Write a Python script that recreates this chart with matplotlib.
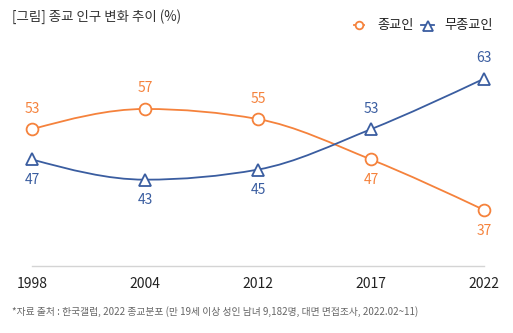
import matplotlib
matplotlib.use("Agg")
import matplotlib.pyplot as plt
from matplotlib.path import Path
from matplotlib.patches import PathPatch
from matplotlib.lines import Line2D
import numpy as np

plt.rcParams['font.family'] = ['Noto Sans CJK KR', 'DejaVu Sans']

years = ["1998", "2004", "2012", "2017", "2022"]
religious = [53, 57, 55, 47, 37]
non_religious = [47, 43, 45, 53, 63]
series_names = ["종교인", "무종교인"]

ORANGE = "#F5823C"
BLUE = "#3A5DA0"

# label placement: +1 above the marker, -1 below
religious_pos = [1, 1, 1, -1, -1]
non_religious_pos = [-1, -1, -1, 1, 1]


def monotone_path(xs, ys):
    """Monotone cubic (monotoneX) Bezier path through the given points."""
    xs = np.asarray(xs, float)
    ys = np.asarray(ys, float)
    n = len(xs)
    h = np.diff(xs)
    s = np.diff(ys) / h
    t = np.zeros(n)
    for i in range(1, n - 1):
        p = (s[i - 1] * h[i] + s[i] * h[i - 1]) / (h[i - 1] + h[i])
        t[i] = (np.sign(s[i - 1]) + np.sign(s[i])) * min(abs(s[i - 1]), abs(s[i]), 0.5 * abs(p))
    t[0] = (3 * s[0] - t[1]) / 2
    t[-1] = (3 * s[-1] - t[-2]) / 2
    verts = [(xs[0], ys[0])]
    codes = [Path.MOVETO]
    for i in range(n - 1):
        dx = (xs[i + 1] - xs[i]) / 3
        verts += [(xs[i] + dx, ys[i] + dx * t[i]),
                  (xs[i + 1] - dx, ys[i + 1] - dx * t[i + 1]),
                  (xs[i + 1], ys[i + 1])]
        codes += [Path.CURVE4] * 3
    return Path(verts, codes)


fig = plt.figure(figsize=(5.13, 3.33), dpi=100)
ax = fig.add_axes([32 / 513, 1 - 266 / 333, (484 - 32) / 513, (266 - 43) / 333])
x = np.arange(len(years))

for vals, color, marker, pos in [
    (religious, ORANGE, "o", religious_pos),
    (non_religious, BLUE, "^", non_religious_pos),
]:
    ax.add_patch(PathPatch(monotone_path(x, vals), facecolor="none",
                           edgecolor=color, lw=1.3, clip_on=False, zorder=2))
    ax.plot(x, vals, linestyle="none", marker=marker, markersize=8.5,
            markerfacecolor="white", markeredgecolor=color, markeredgewidth=1.3,
            clip_on=False, zorder=3)
    for xi, v, p in zip(x, vals, pos):
        ax.annotate(f"{v}", (xi, v), xytext=(0, 14.8 * p), textcoords="offset points",
                    ha="center", va="center", fontsize=10, color=color)

ax.set_xlim(0, len(years) - 1)
ax.set_ylim(25.9, 70.07)
ax.set_xticks(x)
ax.set_xticklabels(years, fontsize=10, color="#222222")
ax.set_yticks([])
ax.tick_params(axis="x", length=0, pad=8)
for side in ["top", "left", "right"]:
    ax.spines[side].set_visible(False)
ax.spines["bottom"].set_color("#d4d4d4")
ax.spines["bottom"].set_linewidth(1.0)

# title
fig.text(12 / 513, 1 - 17 / 333, "[그림] 종교 인구 변화 추이 (%)",
         fontsize=9.7, color="#333333", ha="left", va="center")

# legend
ly = 1 - 25 / 333
fig.add_artist(Line2D([354 / 513, 364 / 513], [ly, ly], color=ORANGE, lw=1.3,
                      transform=fig.transFigure))
fig.add_artist(Line2D([359 / 513], [ly], color=ORANGE, marker="o", markersize=5.5,
                      markerfacecolor="white", markeredgewidth=1.3, linestyle="none",
                      transform=fig.transFigure))
fig.text(377 / 513, ly, series_names[0], fontsize=9.5, color="#222222", ha="left", va="center")
fig.add_artist(Line2D([421 / 513, 434 / 513], [ly, ly], color=BLUE, lw=1.3,
                      transform=fig.transFigure))
fig.add_artist(Line2D([427.5 / 513], [ly - 0.5 / 333], color=BLUE, marker="^", markersize=6.5,
                      markerfacecolor="white", markeredgewidth=1.3, linestyle="none",
                      transform=fig.transFigure))
fig.text(444 / 513, ly, series_names[1], fontsize=9.5, color="#222222", ha="left", va="center")

# source note
fig.text(12 / 513, 1 - 312 / 333,
         "*자료 출처 : 한국갤럽, 2022 종교분포 (만 19세 이상 성인 남녀 9,182명, 대면 면접조사, 2022.02~11)",
         fontsize=7.05, color="#666666", ha="left", va="center")

fig.savefig("out.png", dpi=100)
